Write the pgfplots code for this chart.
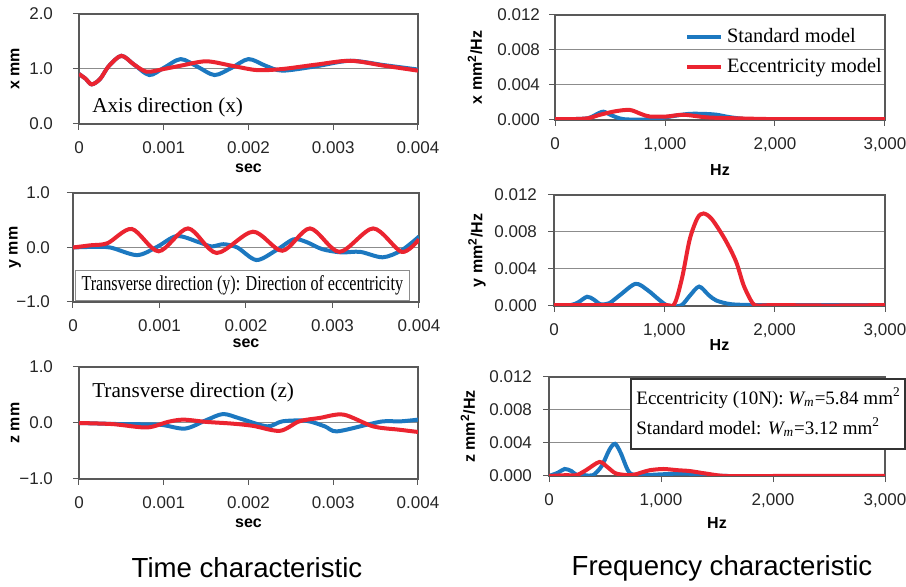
\documentclass[border=0pt]{standalone}
\usepackage{fontspec}
\setmainfont{Liberation Sans}
\newfontfamily\tnr{Liberation Serif}
\usepackage{pgfplots}
\pgfplotsset{compat=1.18}

\definecolor{stdblue}{RGB}{28,120,192}
\definecolor{eccred}{RGB}{235,36,48}

\pgfplotsset{
  panel/.style={
    scale only axis, anchor=south west,
    axis line style={black!65, line width=0.6pt},
    ymajorgrids, major grid style={black!45, line width=0.5pt},
    tick style={black!65, line width=0.5pt},
    tick align=outside, major tick length=3pt, tick pos=left,
    scaled ticks=false,
    tick label style={font=\fontsize{8.5}{10}\selectfont, text=black!85},
    label style={font=\bfseries\fontsize{8}{9.6}\selectfont},
    xlabel style={at={(rel axis cs:0.5,0)}, anchor=center},
    ylabel style={at={(rel axis cs:0,0.5)}, anchor=center},
  },
  timeax/.style={panel, xmin=0, xmax=0.004,
    xtick={0,0.001,0.002,0.003,0.004},
    xticklabels={0,0.001,0.002,0.003,0.004}, xlabel={sec}},
  freqax/.style={panel, xmin=0, xmax=3000, ymin=0, ymax=0.012,
    xtick={0,1000,2000,3000}, xticklabels={0,{1,000},{2,000},{3,000}},
    ytick={0,0.004,0.008,0.012}, yticklabels={0.000,0.004,0.008,0.012},
    xlabel={Hz}},
  pm/.style={ymin=-1, ymax=1, ytick={-1,0,1}, yticklabels={−1.0,0.0,1.0}},
  stdline/.style={stdblue, line width=2pt, smooth},
  eccline/.style={eccred, line width=2pt, smooth},
}
\newcommand{\ann}{\tnr\fontsize{9.5}{11}\selectfont}
\newcommand{\annb}{\tnr\fontsize{10.6}{12}\selectfont}

\begin{document}
\begin{tikzpicture}
\path[use as bounding box] (0,0) rectangle (453pt,-293.5pt);

% x, time
\begin{axis}[timeax, at={(39.5pt,-62pt)}, width=169.5pt, height=55pt,
  ymin=0, ymax=2, ytick={0,1,2}, yticklabels={0.0,1.0,2.0},
  ylabel={x mm},
  x tick label style={yshift=-2.5pt}, y tick label style={xshift=-6.5pt},
  xlabel style={yshift=-22pt}, ylabel style={yshift=32pt}]
\addplot[stdline] coordinates {(0,0.91) (0.00008,0.82) (0.00015,0.72) (0.00025,0.82) (0.00035,1.05) (0.0005,1.24) (0.00065,1.08) (0.00083,0.89) (0.001,1.02) (0.0012,1.18) (0.0014,1.04) (0.0016,0.89) (0.0018,1.02) (0.002,1.18) (0.0022,1.06) (0.0024,0.97) (0.0028,1.05) (0.0032,1.15) (0.0036,1.07) (0.004,0.99)};
\addplot[eccline] coordinates {(0,0.91) (0.00008,0.82) (0.00015,0.72) (0.00025,0.82) (0.00035,1.05) (0.0005,1.24) (0.00065,1.08) (0.0008,0.95) (0.001,1.0) (0.0012,1.06) (0.0015,1.14) (0.0018,1.06) (0.0021,0.98) (0.0024,1.0) (0.0028,1.08) (0.0032,1.15) (0.0036,1.06) (0.004,0.97)};
\node[anchor=west, inner sep=0pt, font=\annb] at (rel axis cs:0.038,0.155) {Axis direction (x)};
\end{axis}

% x, frequency
\begin{axis}[freqax, at={(277.5pt,-60pt)}, width=165pt, height=52.5pt,
  ylabel={x mm\textsuperscript{2}/Hz},
  x tick label style={yshift=-2.5pt}, y tick label style={xshift=-1pt},
  xlabel style={yshift=-25pt}, ylabel style={yshift=40pt},
  legend style={draw=none, fill=none, at={(rel axis cs:0.375,0.95)}, anchor=north west,
    font=\tnr\fontsize{10.2}{12}\selectfont, row sep=2.5pt},
  legend cell align=left,
  legend image code/.code={\draw[#1] (0pt,0pt) -- (17pt,0pt);}]
\addplot[stdline] coordinates {(0,0.0001) (150,0.0001) (300,0.0002) (370,0.0006) (440,0.00095) (520,0.0005) (620,0.0001) (800,0.00005) (950,0.0002) (1100,0.0005) (1220,0.0007) (1350,0.0007) (1470,0.0006) (1600,0.0003) (1800,0.00005) (2100,0.0001) (2500,0.00005) (3000,0.0001)};
\addlegendentry{Standard model}
\addplot[eccline] coordinates {(0,0.0001) (150,0.0001) (300,0.0002) (410,0.0006) (550,0.001) (680,0.00115) (780,0.0007) (860,0.0004) (1015,0.0004) (1167,0.0006) (1380,0.0003) (1620,0.0002) (2000,0.0001) (2500,0.0001) (3000,0.0001)};
\addlegendentry{Eccentricity model}
\end{axis}

% y, time
\begin{axis}[timeax, pm, at={(36.5pt,-151pt)}, width=173pt, height=54.5pt,
  ylabel={y mm},
  x tick label style={yshift=-2.5pt}, y tick label style={xshift=-5pt},
  xlabel style={yshift=-20.5pt}, ylabel style={yshift=29pt}]
\addplot[stdline] coordinates {(0,0) (0.0002,0.01) (0.00043,0) (0.00074,-0.14) (0.00097,0.01) (0.0012,0.21) (0.00145,0.1) (0.0016,0.02) (0.00174,0.06) (0.0019,0) (0.00212,-0.23) (0.00235,-0.05) (0.00255,0.15) (0.0027,0.1) (0.00288,-0.03) (0.0031,-0.09) (0.00332,-0.08) (0.00358,-0.18) (0.0038,-0.05) (0.004,0.2)};
\addplot[eccline] coordinates {(0,0) (0.0002,0.04) (0.0004,0.08) (0.00068,0.34) (0.00099,-0.07) (0.00133,0.35) (0.00166,-0.1) (0.00208,0.29) (0.00242,-0.06) (0.00274,0.35) (0.00308,-0.08) (0.00347,0.35) (0.0038,-0.08) (0.004,0.15)};
\node[anchor=west, fill=white, draw=black!45, line width=0.5pt, inner xsep=3pt, inner ysep=2.5pt] at (rel axis cs:0.006,0.15) {\scalebox{0.76}[1]{\annb Transverse direction (y): Direction of eccentricity}};
\end{axis}

% y, frequency
\begin{axis}[freqax, at={(277pt,-153pt)}, width=165.5pt, height=55.5pt,
  ylabel={y mm\textsuperscript{2}/Hz},
  x tick label style={yshift=-2.5pt}, y tick label style={xshift=-2pt},
  xlabel style={yshift=-19.5pt}, ylabel style={yshift=38.5pt}]
\addplot[stdline] coordinates {(0,0.0001) (150,0.0001) (220,0.0004) (300,0.001) (360,0.0007) (420,0.0002) (500,0.0003) (600,0.0012) (740,0.0024) (850,0.0017) (950,0.0007) (1030,0.00005) (1150,0.00005) (1230,0.0011) (1315,0.0021) (1400,0.0012) (1470,0.0006) (1600,0.0002) (1800,0.0001) (2000,0.0001) (3000,0.0001)};
\addplot[eccline] coordinates {(0,0.0001) (500,0.0001) (1000,0.0001) (1090,0.0002) (1160,0.003) (1230,0.0072) (1300,0.0095) (1355,0.0100) (1430,0.0094) (1550,0.0072) (1650,0.0048) (1720,0.0022) (1800,0.0003) (1850,0.00005) (2000,0.0001) (2500,0.00005) (3000,0.0001)};
\end{axis}

% z, time
\begin{axis}[timeax, pm, at={(39.5pt,-239.5pt)}, width=169.5pt, height=56pt,
  ylabel={z mm},
  x tick label style={yshift=-2.5pt}, y tick label style={xshift=-6.5pt},
  xlabel style={yshift=-22pt}, ylabel style={yshift=32pt}]
\addplot[stdline] coordinates {(0,0) (0.0005,-0.02) (0.00095,-0.03) (0.00125,-0.1) (0.0015,0.05) (0.0017,0.16) (0.0019,0.08) (0.00222,-0.06) (0.0024,0.03) (0.00268,0.04) (0.0029,-0.06) (0.00304,-0.15) (0.0034,-0.03) (0.00359,0.03) (0.0038,0.03) (0.004,0.06)};
\addplot[eccline] coordinates {(0,0) (0.0004,-0.02) (0.0008,-0.08) (0.00105,0.02) (0.00123,0.06) (0.0015,0.02) (0.0018,-0.01) (0.00205,-0.05) (0.00237,-0.14) (0.0026,0.03) (0.00284,0.09) (0.00312,0.15) (0.00347,-0.06) (0.00378,-0.12) (0.004,-0.16)};
\node[anchor=west, inner sep=0pt, font=\annb] at (rel axis cs:0.038,0.77) {Transverse direction (z)};
\end{axis}

% z, frequency
\begin{axis}[freqax, at={(274.5pt,-238pt)}, width=168pt, height=49.5pt,
  ylabel={z mm\textsuperscript{2}/Hz},
  x tick label style={yshift=-2.5pt}, y tick label style={xshift=-2pt},
  xlabel style={yshift=-23.5pt}, ylabel style={yshift=40.5pt}]
\addplot[stdline] coordinates {(0,0) (80,0.0004) (140,0.00085) (200,0.0006) (250,0.0001) (320,0.0001) (393,0.0001) (470,0.0012) (540,0.0032) (590,0.0039) (640,0.0028) (700,0.0008) (740,0.0002) (840,0.0001) (1000,0.0002) (1200,0.0003) (1435,0.0001) (1600,0) (3000,0)};
\addplot[eccline] coordinates {(0,0) (150,0.0001) (244,0.0001) (330,0.0007) (450,0.0017) (520,0.0011) (600,0.0003) (735,0.0001) (820,0.0004) (900,0.0007) (1020,0.00085) (1150,0.0007) (1257,0.0006) (1400,0.0003) (1585,0) (2000,0) (3000,0)};
\end{axis}

% annotation box over the z spectrum
\draw[black!80, line width=0.6pt, fill=white] (315.5pt,-189.5pt) rectangle (452.5pt,-224.5pt);
\node[anchor=west, inner sep=0pt, font=\ann] at (318pt,-199pt) {Eccentricity (10N): \textit{W\textsubscript{m}}=5.84 mm\textsuperscript{2}};
\node[anchor=west, inner sep=0pt, font=\ann] at (318pt,-213.5pt) {Standard model: \textit{W\textsubscript{m}}=3.12 mm\textsuperscript{2}};

% column titles
\node[font=\fontsize{13.8}{16}\selectfont] at (123.5pt,-284pt) {Time characteristic};
\node[font=\fontsize{13.8}{16}\selectfont] at (361pt,-284pt) {Frequency characteristic};
\end{tikzpicture}
\end{document}
